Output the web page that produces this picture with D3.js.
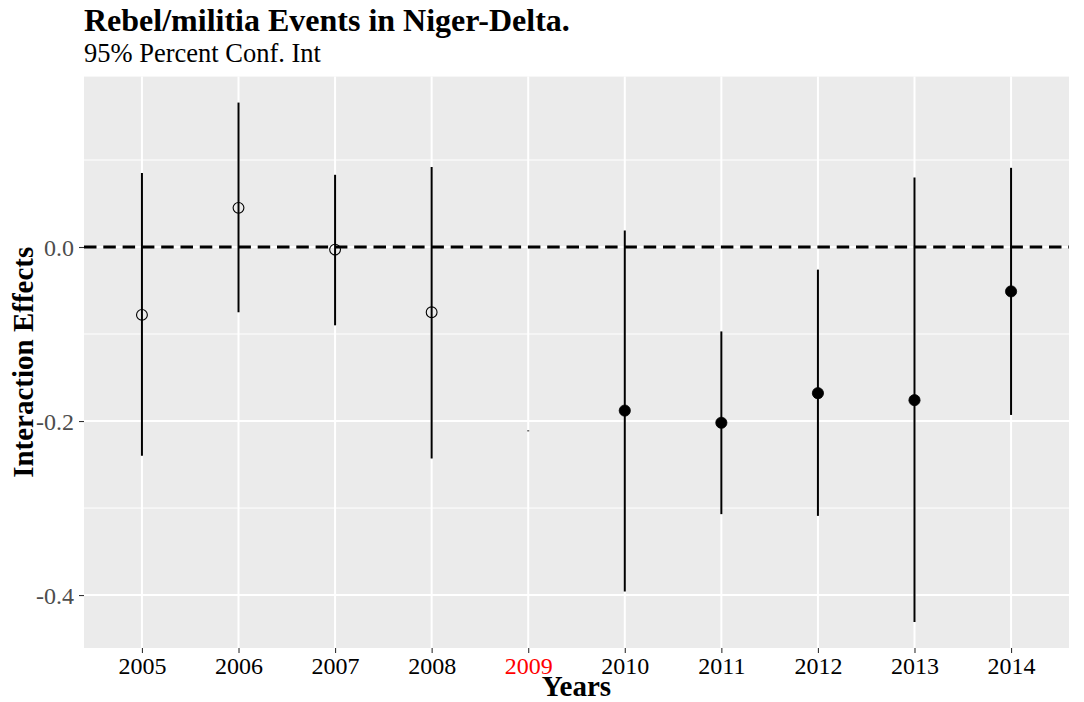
<!DOCTYPE html>
<html>
<head>
<meta charset="utf-8">
<script src="https://cdn.jsdelivr.net/npm/d3@7"></script>
<style>
  html, body { margin: 0; padding: 0; background: #ffffff; }
  svg { display: block; }
</style>
</head>
<body>
<svg id="chart" width="1084" height="702"></svg>
<script>
// Yearly interaction-effect estimates with 95% confidence bounds
const years = ["2005", "2006", "2007", "2008", "2009", "2010", "2011", "2012", "2013", "2014"];
const estimate = [-0.078, 0.045, -0.003, -0.075, null, -0.188, -0.202, -0.168, -0.176, -0.051];
const lower = [-0.240, -0.075, -0.090, -0.243, -0.2118, -0.396, -0.307, -0.309, -0.431, -0.193];
const upper = [0.085, 0.166, 0.083, 0.092, -0.2108, 0.019, -0.097, -0.026, 0.080, 0.091];
// Years before 2009 are drawn with open markers, later years filled
const filled = [false, false, false, false, false, true, true, true, true, true];
const yTicks = [0.0, -0.2, -0.4];
const yMinor = [0.1, -0.1, -0.3];
const highlightYear = "2009";

const rows = years.map((y, i) => ({
  year: y, est: estimate[i], lo: lower[i], hi: upper[i], filled: filled[i]
}));

const svg = d3.select("#chart");
const panel = { left: 84, right: 1069, top: 76.6, bottom: 648 };
const serif = "'Liberation Serif', 'Times New Roman', serif";

// ggplot-style 5% expansion of the data range
const vals = lower.concat(upper).concat(estimate.filter(v => v !== null));
const vmin = d3.min(vals), vmax = d3.max(vals);
const pad = (vmax - vmin) * 0.05;

const x = d3.scalePoint().domain(years).range([panel.left, panel.right]).padding(0.6);
const y = d3.scaleLinear().domain([vmin - pad, vmax + pad]).range([panel.bottom, panel.top]);

// panel background
svg.append("rect")
  .attr("x", panel.left).attr("y", panel.top)
  .attr("width", panel.right - panel.left).attr("height", panel.bottom - panel.top)
  .attr("fill", "#ebebeb");

const grid = svg.append("g");
grid.selectAll(".minor").data(yMinor).join("line")
  .attr("x1", panel.left).attr("x2", panel.right)
  .attr("y1", d => y(d)).attr("y2", d => y(d))
  .attr("stroke", "#ffffff").attr("stroke-width", 1);
grid.selectAll(".majorY").data(yTicks).join("line")
  .attr("x1", panel.left).attr("x2", panel.right)
  .attr("y1", d => y(d)).attr("y2", d => y(d))
  .attr("stroke", "#ffffff").attr("stroke-width", 2);
grid.selectAll(".majorX").data(years).join("line")
  .attr("x1", d => x(d)).attr("x2", d => x(d))
  .attr("y1", panel.top).attr("y2", panel.bottom)
  .attr("stroke", "#ffffff").attr("stroke-width", 2);

// reference line at zero
svg.append("line")
  .attr("x1", panel.left).attr("x2", panel.right)
  .attr("y1", y(0)).attr("y2", y(0))
  .attr("stroke", "#000000").attr("stroke-width", 3)
  .attr("stroke-dasharray", "12.5,6.8");

// confidence intervals
svg.append("g").selectAll("line").data(rows).join("line")
  .attr("x1", d => x(d.year)).attr("x2", d => x(d.year))
  .attr("y1", d => y(d.hi)).attr("y2", d => y(d.lo))
  .attr("stroke", "#000000").attr("stroke-width", 2);

// point estimates
svg.append("g").selectAll("circle").data(rows.filter(d => d.est !== null)).join("circle")
  .attr("cx", d => x(d.year)).attr("cy", d => y(d.est))
  .attr("r", d => d.filled ? 5.6 : 5.4)
  .attr("fill", d => d.filled ? "#000000" : "none")
  .attr("stroke", "#000000")
  .attr("stroke-width", d => d.filled ? 0.8 : 1.1);

// y axis
const yAxis = svg.append("g")
  .attr("transform", `translate(${panel.left},0)`)
  .call(d3.axisLeft(y).tickValues(yTicks).tickFormat(d => d.toFixed(1)).tickSize(5).tickPadding(5));
yAxis.select(".domain").remove();
yAxis.selectAll(".tick line").attr("stroke", "#333333").attr("stroke-width", 1.1);
yAxis.selectAll(".tick text")
  .attr("fill", "#4d4d4d").style("font-family", serif).style("font-size", "24px")
  .attr("dy", "0.34em");

// x axis
const xAxis = svg.append("g")
  .attr("transform", `translate(0,${panel.bottom})`)
  .call(d3.axisBottom(x).tickSize(5).tickPadding(4));
xAxis.select(".domain").remove();
xAxis.selectAll(".tick line").attr("stroke", "#333333").attr("stroke-width", 1.1);
xAxis.selectAll(".tick text")
  .attr("fill", d => d === highlightYear ? "#ff0000" : "#000000")
  .style("font-family", serif).style("font-size", "24px")
  .attr("dy", "0.72em");

// axis titles
svg.append("text")
  .attr("x", (panel.left + panel.right) / 2).attr("y", 696)
  .attr("text-anchor", "middle")
  .style("font-family", serif).style("font-size", "29px").style("font-weight", "bold")
  .text("Years");

svg.append("text")
  .attr("transform", `translate(33,${(panel.top + panel.bottom) / 2}) rotate(-90)`)
  .attr("text-anchor", "middle")
  .style("font-family", serif).style("font-size", "29px").style("font-weight", "bold")
  .text("Interaction Effects");

// titles
svg.append("text")
  .attr("x", panel.left).attr("y", 31)
  .style("font-family", serif).style("font-size", "32px").style("font-weight", "bold")
  .text("Rebel/militia Events in Niger-Delta.");
svg.append("text")
  .attr("x", panel.left).attr("y", 62)
  .style("font-family", serif).style("font-size", "26.5px")
  .text("95% Percent Conf. Int");
</script>
</body>
</html>
